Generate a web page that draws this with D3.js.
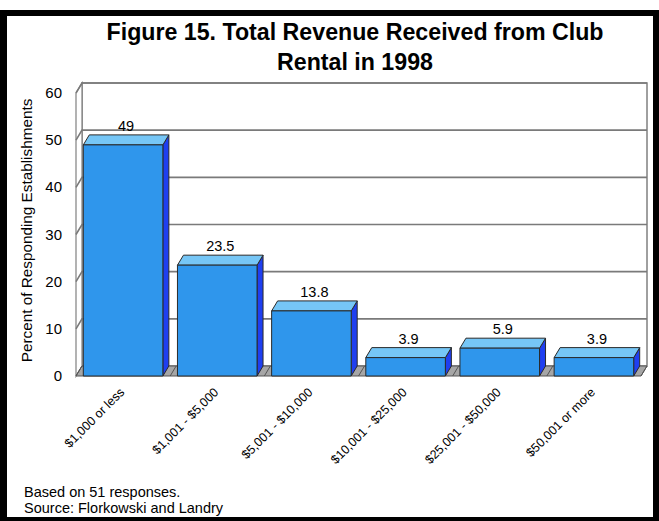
<!DOCTYPE html>
<html><head><meta charset="utf-8">
<script src="https://cdn.jsdelivr.net/npm/d3@7"></script>
<style>body{margin:0;background:#fff;} svg{display:block;font-family:Arial,"Liberation Sans",sans-serif;}</style>
</head><body>
<svg id="c" width="659" height="521"></svg>
<script>
const categories = ["$1,000 or less","$1,001 - $5,000","$5,001 - $10,000","$10,001 - $25,000","$25,001 - $50,000","$50,001 or more"];
const values = [49, 23.5, 13.8, 3.9, 5.9, 3.9];
const valueLabels = ["49","23.5","13.8","3.9","5.9","3.9"];
const yTicks = [0,10,20,30,40,50,60];
const titleLines = ["Figure 15. Total Revenue Received from Club","Rental in 1998"];
const yTitle = "Percent of Responding Establishments";
const notes = ["Based on 51 responses.","Source: Florkowski and Landry"];

const svg = d3.select("#c");
const DX = 6, DY = -10;
const x = d3.scaleBand().domain(categories).range([76, 641]).paddingInner(0.155).paddingOuter(0.0775);
const y = d3.scaleLinear().domain([0, 60]).range([376, 93]);
const y0 = y(0), yTop = y(60);
const xL = x.range()[0], xR = x.range()[1];

// frame
svg.append("rect").attr("x",0).attr("y",10).attr("width",7).attr("height",511).attr("fill","#000");
svg.append("rect").attr("x",0).attr("y",10).attr("width",659).attr("height",6).attr("fill","#000");
svg.append("rect").attr("x",653).attr("y",10).attr("width",6).attr("height",511).attr("fill","#000");
svg.append("rect").attr("x",0).attr("y",517).attr("width",659).attr("height",4).attr("fill","#000");

// title
titleLines.forEach((t,i)=>{
  svg.append("text").attr("x",355).attr("y",40+i*30).attr("text-anchor","middle")
    .attr("font-size",23.2).attr("font-weight","bold").attr("fill","#000").text(t);
});

const line = d3.line();
// back wall
svg.append("rect").attr("x",xL+DX).attr("y",yTop+DY).attr("width",xR-xL).attr("height",y0-yTop)
  .attr("fill","#fff").attr("stroke","#808080").attr("stroke-width",1.5);
// side wall
svg.append("path").attr("d",line([[xL,yTop],[xL+DX,yTop+DY],[xL+DX,y0+DY],[xL,y0]])+"Z")
  .attr("fill","#fff").attr("stroke","#808080").attr("stroke-width",1.2);
// gridlines
yTicks.filter(v=>v>0).forEach(v=>{
  svg.append("path").attr("d",line([[xL,y(v)],[xL+DX,y(v)+DY],[xR+DX,y(v)+DY]]))
    .attr("fill","none").attr("stroke","#7a7a7a").attr("stroke-width",1.6);
});
// floor
svg.append("path").attr("d",line([[xL,y0],[xL+DX,y0+DY],[xR+DX,y0+DY],[xR,y0]])+"Z")
  .attr("fill","#a6a6a6").attr("stroke","#555").attr("stroke-width",1);
const step = x.step();
d3.range(0, categories.length+1).forEach(i=>{
  const bx = xL + i*step;
  svg.append("line").attr("x1",bx).attr("y1",y0).attr("x2",bx+DX).attr("y2",y0+DY)
    .attr("stroke","#555").attr("stroke-width",1);
});

// bars
const bw = x.bandwidth();
categories.forEach((c,i)=>{
  const bx = x(c), by = y(values[i]);
  const g = svg.append("g").attr("stroke","#2a2a2a").attr("stroke-width",1).attr("stroke-linejoin","round");
  g.append("path").attr("d",line([[bx+bw,by],[bx+bw+DX,by+DY],[bx+bw+DX,y0+DY],[bx+bw,y0]])+"Z").attr("fill","#1f3ff0");
  g.append("path").attr("d",line([[bx,by],[bx+DX,by+DY],[bx+bw+DX,by+DY],[bx+bw,by]])+"Z").attr("fill","#76c6f6");
  g.append("rect").attr("x",bx).attr("y",by).attr("width",bw).attr("height",y0-by).attr("fill","#2f96ec");
  svg.append("text").attr("x",bx+bw/2+DX/2).attr("y",by+DY-4).attr("text-anchor","middle")
    .attr("font-size",14.5).attr("fill","#000").text(valueLabels[i]);
  svg.append("text").attr("transform",`translate(${bx+bw/2+2},${y0+17}) rotate(-45)`)
    .attr("text-anchor","end").attr("font-size",12.5).attr("fill","#000").text(c);
});

// y tick labels
yTicks.forEach(v=>{
  svg.append("text").attr("x",62).attr("y",y(v)+5).attr("text-anchor","end")
    .attr("font-size",15).attr("fill","#000").text(v);
});
// y title
svg.append("text").attr("transform",`translate(32,${(yTop+y0)/2 - 4}) rotate(-90)`).attr("text-anchor","middle")
  .attr("font-size",15.3).attr("fill","#000").text(yTitle);

// notes
notes.forEach((t,i)=>{
  svg.append("text").attr("x",24).attr("y",497+i*16).attr("font-size",14.5).attr("fill","#000").text(t);
});
</script>
</body></html>
